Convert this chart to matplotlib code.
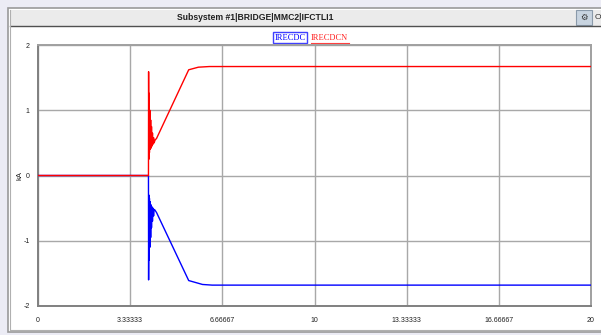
import matplotlib
matplotlib.use("Agg")
import matplotlib.pyplot as plt
from matplotlib.patches import Rectangle
from matplotlib.lines import Line2D

# ---- data ----
t_irecdcn = [0.0, 3.995, 4.00, 4.01, 4.02, 4.03, 4.045, 4.06, 4.075, 4.09, 4.105,
             4.12, 4.14, 4.16, 4.18, 4.20, 4.23, 4.29, 5.45, 5.8, 6.2, 20.0]
irecdcn = [0.0, 0.0, 1.59, 0.25, 1.26, 0.35, 1.0, 0.40, 0.85, 0.42, 0.75,
           0.45, 0.65, 0.48, 0.58, 0.50, 0.54, 0.57, 1.62, 1.66, 1.67, 1.67]

t_irecdc = [0.0, 3.995, 4.00, 4.01, 4.02, 4.03, 4.045, 4.06, 4.075, 4.09, 4.105,
            4.12, 4.14, 4.16, 4.18, 4.20, 4.23, 4.29, 5.45, 5.95, 6.3, 20.0]
irecdc = [0.0, 0.0, -1.60, -0.30, -1.30, -0.35, -1.10, -0.40, -0.95, -0.45, -0.80,
          -0.48, -0.70, -0.50, -0.62, -0.52, -0.53, -0.57, -1.61, -1.67, -1.68, -1.68]

x_ticks = [0, 3.33333, 6.66667, 10, 13.33333, 16.66667, 20]
x_tick_labels = ["0", "3.33333", "6.66667", "10", "13.33333", "16.66667", "20"]
y_ticks = [-2, -1, 0, 1, 2]
y_tick_labels = ["-2", "-1", "0", "1", "2"]

title = "Subsystem #1|BRIDGE|MMC2|IFCTLI1"
legend_names = ["IRECDC", "IRECDCN"]
y_label = "kA"

W, H = 601, 335
fig = plt.figure(figsize=(W / 100, H / 100), dpi=100)
fig.patch.set_facecolor("#ECECF5")


def fx(px):
    return px / W


def fy(py):
    return 1 - py / H


def rect(x0, y0, x1, y1, z=-5, **kw):
    r = Rectangle((fx(x0), fy(y1)), fx(x1) - fx(x0), fy(y0) - fy(y1),
                  transform=fig.transFigure, figure=fig, zorder=z, **kw)
    fig.patches.append(r)


def hline(y, x0, x1, color, lw=1.0):
    fig.add_artist(Line2D([fx(x0), fx(x1)], [fy(y), fy(y)], transform=fig.transFigure,
                          color=color, lw=lw, zorder=-1))


def vline(x, y0, y1, color, lw=1.0):
    fig.add_artist(Line2D([fx(x), fx(x)], [fy(y0), fy(y1)], transform=fig.transFigure,
                          color=color, lw=lw, zorder=-1))


# window
rect(8, 8, 610, 332, facecolor="white", edgecolor="#9A9A9A", lw=1.2)
rect(10, 10, 610, 26, z=-4, facecolor="#EBEBEB", edgecolor="none")
hline(26, 10, 610, "#505050", 1.0)
vline(10.5, 10, 330, "#B0B0B0", 0.8)
hline(329.5, 10, 610, "#B0B0B0", 0.8)
# icon
rect(576, 10, 592, 25, z=-3, facecolor="#C8D4E0", edgecolor="#8A9AAA", lw=0.8)
fig.text(fx(584), fy(17.5), "\u2699", ha="center", va="center", fontsize=6, color="#333333")
fig.text(fx(594.5), fy(17.5), "O", ha="left", va="center", fontsize=6, color="#333333",
         family="Liberation Sans")

fig.text(fx(255), fy(17.5), title, ha="center", va="center", fontsize=6.2,
         fontweight="bold", family="Liberation Sans", color="#202020")

# legend
fig.text(fx(290), fy(37.5), legend_names[0], ha="center", va="center", fontsize=6,
         family="Liberation Serif", color="#0000FF",
         bbox=dict(boxstyle="square,pad=0.15", fc="white", ec="#4040FF", lw=1.0))
fig.text(fx(311), fy(37.5), legend_names[1], ha="left", va="center", fontsize=6,
         family="Liberation Serif", color="#FF2020")
hline(42.5, 311, 349, "#FF4040", 0.8)

# axes
L, R, T, B = 38, 591, 45, 306
ax = fig.add_axes([fx(L), fy(B), fx(R) - fx(L), fy(T) - fy(B)])
ax.set_zorder(10)
ax.plot(t_irecdc, irecdc, color="#0000FF", lw=1.0, zorder=3)
ax.plot(t_irecdcn, irecdcn, color="#FF0000", lw=1.0, zorder=4)
ax.set_xlim(0, 20)
ax.set_ylim(-2, 2)
ax.set_xticks(x_ticks)
ax.set_xticklabels(x_tick_labels, fontsize=5, family="Liberation Sans", color="#202020")
ax.set_yticks(y_ticks)
ax.set_yticklabels(y_tick_labels, fontsize=5, family="Liberation Sans", color="#202020")
ax.tick_params(length=0, pad=6)
ax.tick_params(axis="x", pad=8)
ax.grid(True, color="#A8A8A8", lw=1.0)
for s in ax.spines.values():
    s.set_color("#A0A0A0")
    s.set_linewidth(1.4)
ax.spines["left"].set_color("#808080")
ax.spines["bottom"].set_color("#808080")
ax.set_facecolor("white")
fig.text(fx(20), fy(176), y_label, rotation=90, ha="center", va="center", fontsize=5.5,
         family="Liberation Sans", color="#202020")

fig.savefig("out.png", dpi=100, facecolor=fig.get_facecolor())
